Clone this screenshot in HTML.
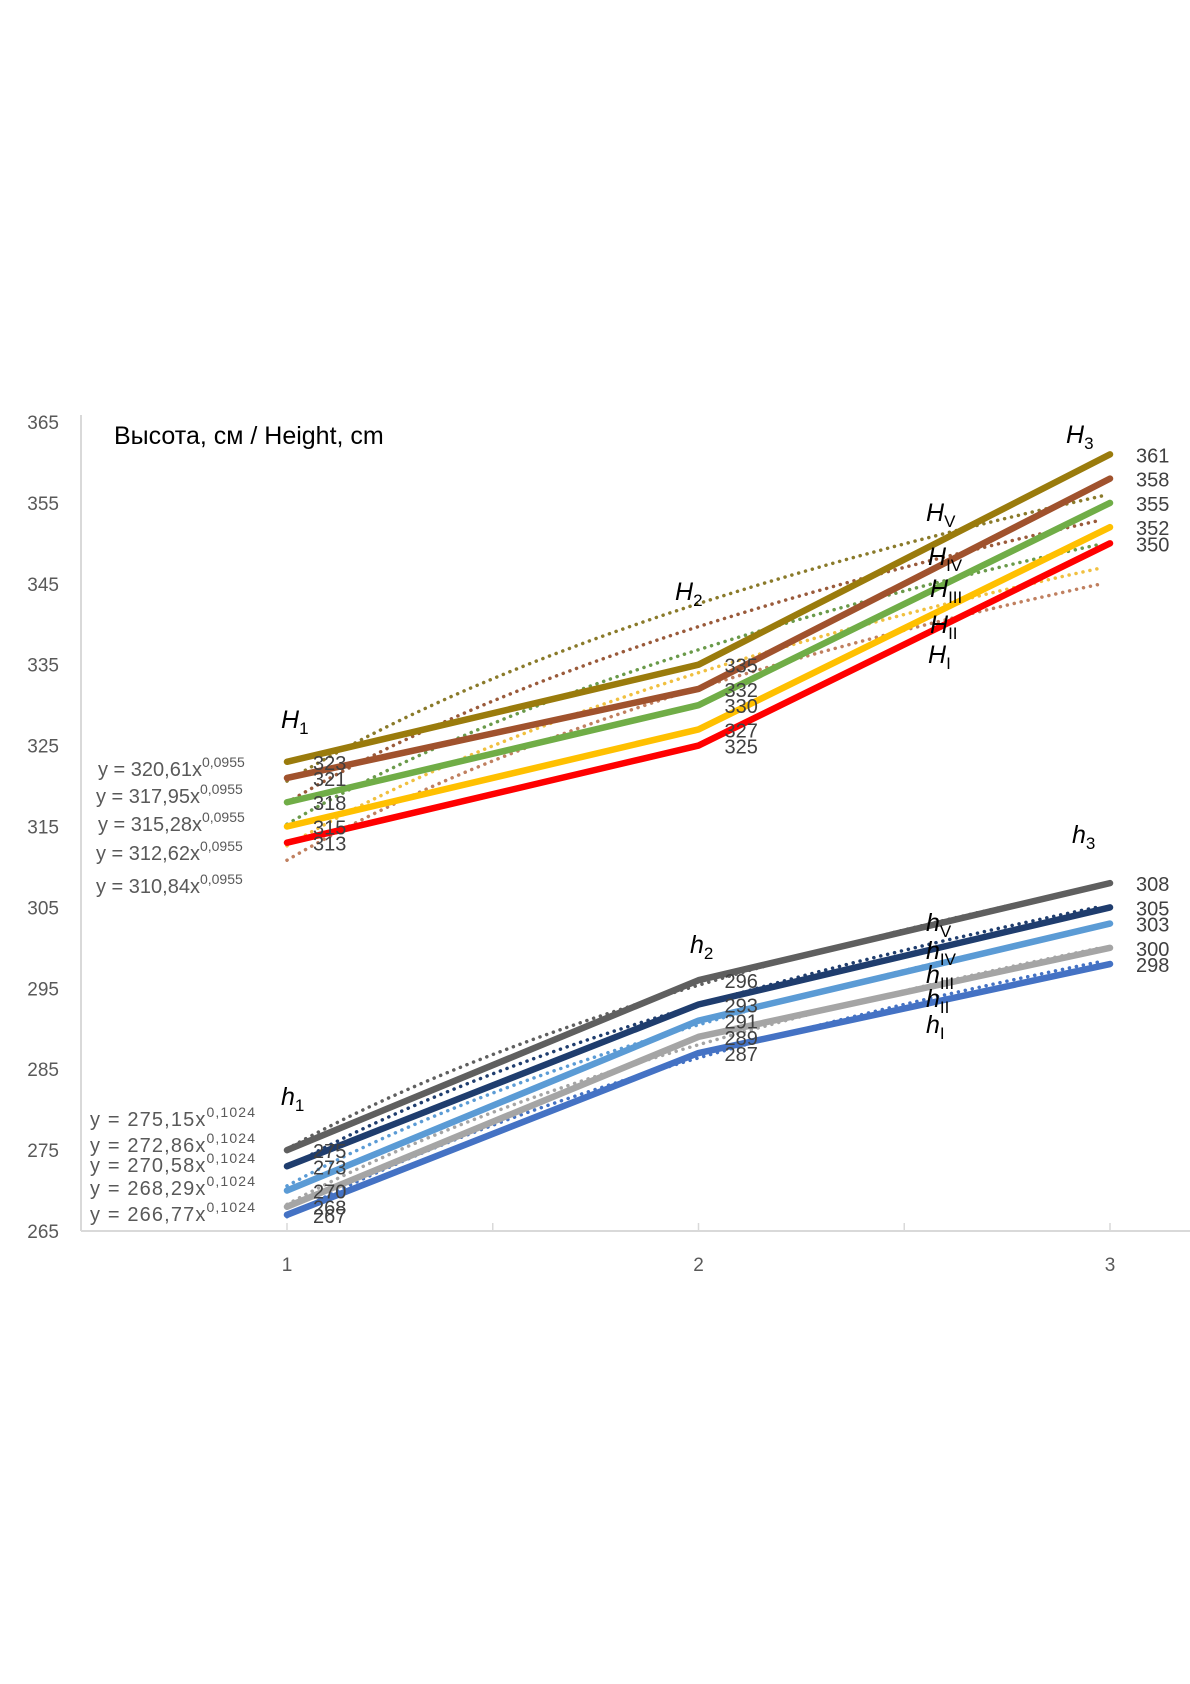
<!DOCTYPE html>
<html><head><meta charset="utf-8"><style>
body{margin:0;background:#fff;}
svg{display:block;font-family:"Liberation Sans",sans-serif;}
</style></head><body>
<svg id="chart" width="1190" height="1684" viewBox="0 0 1190 1684">
<g id="axes"></g>
<g id="trends"></g>
<g id="series"></g>
<g id="labels"></g>
<text x="114" y="444" font-size="25" fill="#000">Высота, см / Height, cm</text>
</svg>
<script>
const categories = [1, 2, 3];
const yTicks = [265, 275, 285, 295, 305, 315, 325, 335, 345, 355, 365];
const seriesNames = ['HV','HIV','HIII','HII','HI','hV','hIV','hIII','hII','hI'];
const HV = [323, 335, 361];
const HIV = [321, 332, 358];
const HIII = [318, 330, 355];
const HII = [315, 327, 352];
const HI = [313, 325, 350];
const hV = [275, 296, 308];
const hIV = [273, 293, 305];
const hIII = [270, 291, 303];
const hII = [268, 289, 300];
const hI = [267, 287, 298];
const trendCoefH = [320.61, 317.95, 315.28, 312.62, 310.84];
const trendExpH = 0.0955;
const trendCoefh = [275.15, 272.86, 270.58, 268.29, 266.77];
const trendExph = 0.1024;

const NS = 'http://www.w3.org/2000/svg';
const X = v => 287 + (v - 1) * 411.5;
const Y = v => 422 + (365 - v) * 8.09;
function mk(tag, attrs, parent, text) {
  const e = document.createElementNS(NS, tag);
  for (const k in attrs) e.setAttribute(k, attrs[k]);
  if (text !== undefined) e.textContent = text;
  parent.appendChild(e);
  return e;
}
const axes = document.getElementById('axes');
const trends = document.getElementById('trends');
const series = document.getElementById('series');
const labels = document.getElementById('labels');

let ax = mk('line', {x1: 81, y1: 415, x2: 81, y2: Y(265), stroke: '#d9d9d9', 'stroke-width': 2}, axes);


ax = mk('line', {x1: 81, y1: Y(265), x2: 1190, y2: Y(265), stroke: '#d9d9d9', 'stroke-width': 2}, axes);


[1, 1.5, 2, 2.5, 3].forEach(v => {
  const t = mk('line', {x1: X(v), y1: Y(265) - 8, x2: X(v), y2: Y(265), stroke: '#d9d9d9', 'stroke-width': 1.5}, axes);
  
  
});
yTicks.forEach(v => {
  const t = mk('text', {x: 59, y: Y(v) + 7, 'font-size': 19, fill: '#595959', 'text-anchor': 'end'}, axes, String(v));
  
  
});
categories.forEach(c => {
  const t = mk('text', {x: X(c), y: 1271, 'font-size': 19, fill: '#595959', 'text-anchor': 'middle'}, axes, String(c));
  
  
});

const dataArr = [HV, HIV, HIII, HII, HI, hV, hIV, hIII, hII, hI];
const colors = ['#9a7b0c', '#a0522d', '#70ad47', '#ffc000', '#ff0000', '#5f5f5f', '#1f3d6e', '#5b9bd5', '#a5a5a5', '#4472c4'];
const trendColors = ['#8a7a2a', '#9a5a3a', '#6a9a4a', '#f0c040', '#c08060', '#5f5f5f', '#1f3d6e', '#5b9bd5', '#a5a5a5', '#4472c4'];

// trendlines
for (let i = 0; i < 10; i++) {
  const a = i < 5 ? trendCoefH[i] : trendCoefh[i - 5];
  const b = i < 5 ? trendExpH : trendExph;
  let d = '';
  for (let k = 0; k <= 40; k++) {
    const xv = 1 + k * 1.98 / 40;
    d += (k ? 'L' : 'M') + X(xv).toFixed(1) + ',' + Y(a * Math.pow(xv, b)).toFixed(1);
  }
  const p = mk('path', {d: d, fill: 'none', stroke: trendColors[i], 'stroke-width': 3.5, 'stroke-dasharray': '0.1 7', 'stroke-linecap': 'round'}, trends);
  
  
}
// series lines
for (let i = 0; i < 10; i++) {
  const vals = dataArr[i];
  const d = vals.map((v, k) => (k ? 'L' : 'M') + X(categories[k]) + ',' + Y(v)).join('');
  const p = mk('path', {d: d, fill: 'none', stroke: colors[i], 'stroke-width': 6.5, 'stroke-linecap': 'round', 'stroke-linejoin': 'round'}, series);
  
  
}
// data labels
for (let i = 0; i < 10; i++) {
  dataArr[i].forEach((v, k) => {
    const t = mk('text', {x: X(categories[k]) + 26, y: Y(v) + 8, 'font-size': 20, fill: '#404040'}, labels, String(v));
    
    
  });
}
// equation labels
const eqPos = [[98, 776], [96, 803], [98, 831], [96, 860], [96, 893], [90, 1126], [90, 1152], [90, 1172], [90, 1195], [90, 1221]];
for (let i = 0; i < 10; i++) {
  const a = i < 5 ? trendCoefH[i] : trendCoefh[i - 5];
  const b = i < 5 ? trendExpH : trendExph;
  const t = mk('text', {x: eqPos[i][0], y: eqPos[i][1], 'font-size': 20, fill: '#595959'}, labels);
  if (i >= 5) t.setAttribute('textLength', '165');
  
  
  mk('tspan', {}, t, 'y = ' + a.toFixed(2).replace('.', ',') + 'x');
  mk('tspan', {'font-size': 14, dy: -9}, t, b.toFixed(4).replace('.', ','));
}
// series name labels
const nameLabels = [
  ['H', '1', 281, 728], ['H', '2', 675, 600], ['H', '3', 1066, 443],
  ['H', 'V', 926, 521], ['H', 'IV', 928, 565], ['H', 'III', 930, 597], ['H', 'II', 930, 633], ['H', 'I', 928, 663],
  ['h', '1', 281, 1105], ['h', '2', 690, 953], ['h', '3', 1072, 843],
  ['h', 'V', 926, 931], ['h', 'IV', 926, 959], ['h', 'III', 926, 983], ['h', 'II', 926, 1007], ['h', 'I', 926, 1033]
];
nameLabels.forEach(n => {
  const t = mk('text', {x: n[2], y: n[3], 'font-size': 25, fill: '#000'}, labels);
  
  
  mk('tspan', {'font-style': 'italic'}, t, n[0]);
  mk('tspan', {'font-size': 17, dy: 6}, t, n[1]);
});
</script>
</body></html>
